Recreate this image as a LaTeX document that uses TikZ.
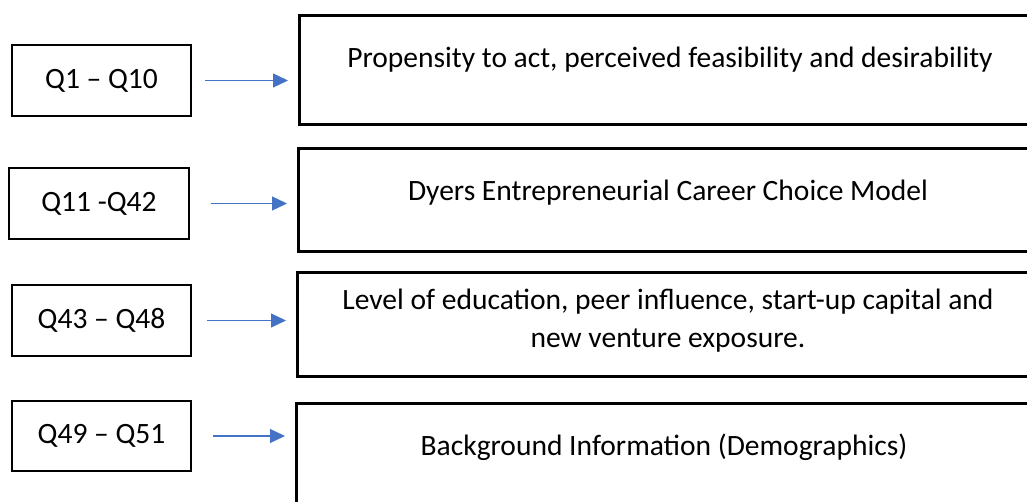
\documentclass[tikz,border=0pt]{standalone}
\usepackage{fontspec}
\setmainfont{Carlito}
\usepackage{tikz}
\usetikzlibrary{arrows.meta,positioning}
\definecolor{flowBlue}{RGB}{68,114,196}

\tikzset{
  qbox/.style={draw=black,line width=1.5pt,minimum width=3.58cm,minimum height=1.42cm,inner sep=0pt,font=\fontsize{16.8}{20}\selectfont},
  topicbox/.style={draw=black,line width=1.5pt,minimum width=15cm,anchor=north west,inner sep=0pt},
  topictext/.style={anchor=base,align=center,font=\fontsize{16.8}{21.6}\selectfont},
  flow/.style={draw=flowBlue,line width=0.7pt,-{Triangle[length=0.3cm,width=0.28cm]},shorten <=0.26cm,shorten >=0.2cm}
}

\begin{document}
\begin{tikzpicture}[x=1cm,y=1cm]
\path[use as bounding box] (0,0) rectangle (20.54,-10.04);
\clip (0,0) rectangle (20.54,-10.04);

% question ranges
\node[qbox] (q1) at (2.03,-1.61) {Q1 – Q10};
\node[qbox,minimum width=3.60cm] (q2) at (1.98,-4.07) {Q11 -Q42};
\node[qbox] (q3) at (2.03,-6.41) {Q43 – Q48};
\node[qbox,minimum height=1.40cm] (q4) at (2.03,-8.72) {Q49 – Q51};

% topic boxes, running off the right edge
\node[topicbox,minimum height=2.18cm] (r1) at (5.96,-0.28) {};
\node[topicbox,minimum height=2.06cm] (r2) at (5.94,-2.94) {};
\node[topicbox,minimum height=2.08cm] (r3) at (5.92,-5.42) {};
\node[topicbox,minimum height=2.60cm] (r4) at (5.90,-8.04) {};

% base anchor sits on the last line
\node[topictext] (t1) at (13.40,-1.34) {Propensity to act, perceived feasibility and desirability};
\node[topictext] (t2) at (13.36,-4.00) {Dyers Entrepreneurial Career Choice Model};
\node[topictext] (t3) at (13.36,-6.94) {Level of education, peer influence, start-up capital and\\new venture exposure.};
\node[topictext] (t4) at (13.28,-9.10) {Background Information (Demographics)};

\draw[flow] (q1.east) -- (q1.east -| r1.west);
\draw[flow,shorten <=0.42cm] (q2.east) -- (q2.east -| r2.west);
\draw[flow,shorten <=0.3cm] (q3.east) -- (q3.east -| r3.west);
\draw[flow,shorten <=0.42cm] (q4.east) -- (q4.east -| r4.west);
\end{tikzpicture}
\end{document}
